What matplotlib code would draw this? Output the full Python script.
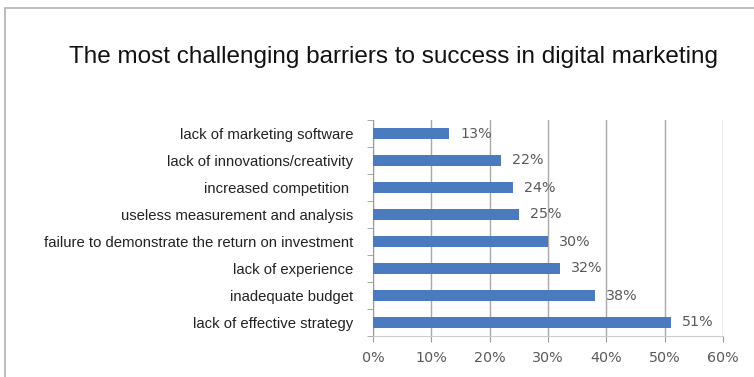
import numpy as np
import matplotlib
matplotlib.use('Agg')
import matplotlib.pyplot as plt
from matplotlib.patches import Rectangle

# data, bottom to top as drawn
barriers = ['lack of effective strategy', 'inadequate budget', 'lack of experience',
            'failure to demonstrate the return on investment',
            'useless measurement and analysis', 'increased competition ',
            'lack of innovations/creativity', 'lack of marketing software']
shares = [51, 38, 32, 30, 25, 24, 22, 13]
x_ticks = [0, 10, 20, 30, 40, 50, 60]

plt.rcParams['font.family'] = ['Liberation Sans', 'DejaVu Sans']

fig = plt.figure(figsize=(7.54, 3.77), dpi=100)
# outer frame (cut off on the right and bottom in the reference)
fig.patches.append(Rectangle((5 / 754, -0.1), 1.2, 1 - 8 / 377 + 0.1, transform=fig.transFigure,
                             fill=False, edgecolor='#b0b0b0', linewidth=1.2))
fig.text(393 / 754, 1 - 63 / 377, 'The most challenging barriers to success in digital marketing',
         ha='center', va='baseline', fontsize=17.5, color='#111111')

ax = fig.add_axes([373 / 754, 1 - 336 / 377, 350 / 754, 216 / 377])
y = np.arange(len(barriers))
ax.barh(y, shares, height=0.43, color='#4a7bbf', zorder=3)
for yi, v in zip(y, shares):
    ax.annotate(f'{v}%', (v, yi), xytext=(8, 0), textcoords='offset points',
                va='center', ha='left', fontsize=10.3, color='#595959',
                family='DejaVu Sans', zorder=4)

ax.set_xlim(0, 60)
ax.set_ylim(-0.5, len(barriers) - 0.5)
ax.set_xticks(x_ticks)
ax.set_xticklabels([f'{t}%' for t in x_ticks], fontsize=10.3, color='#595959',
                   family='DejaVu Sans')
ax.set_yticks(y)
ax.set_yticklabels(barriers, fontsize=10.7, color='#222222')
ax.set_yticks(np.arange(-0.5, len(barriers), 1), minor=True)
ax.tick_params(axis='y', which='major', length=0, pad=14)
ax.tick_params(axis='y', which='minor', length=4, color='#999999')
ax.tick_params(axis='x', length=4, color='#999999', pad=7)
ax.grid(axis='x', color='#a8a8a8', linewidth=1, zorder=0)
for s in ['top', 'right']:
    ax.spines[s].set_visible(False)
ax.spines['left'].set_color('#999999')
ax.spines['bottom'].set_color('#cccccc')

fig.savefig('out.png', dpi=100)
